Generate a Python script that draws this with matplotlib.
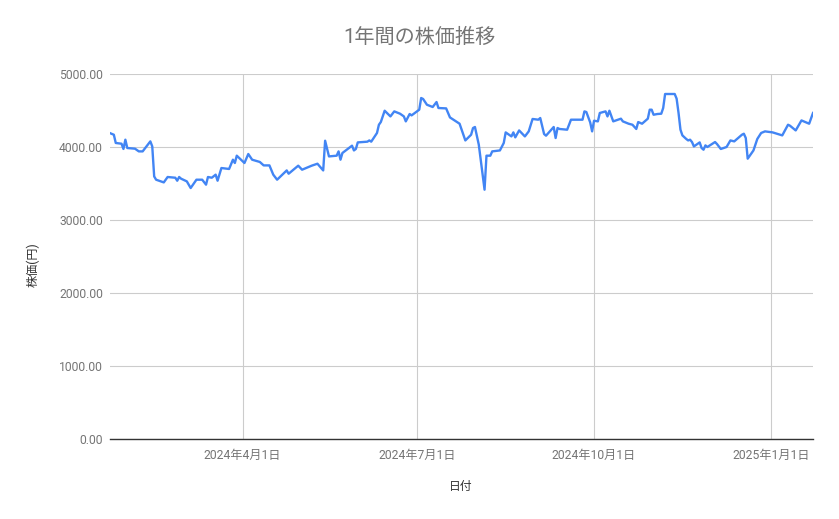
import matplotlib
matplotlib.use("Agg")
import matplotlib.pyplot as plt
import matplotlib.dates as mdates
import matplotlib.ticker as mticker
import pandas as pd

plt.rcParams['font.family'] = ['Roboto', 'Noto Sans CJK JP', 'DejaVu Sans']

title = "1年間の株価推移"
x_label = "日付"
y_label = "株価(円)"

dates = [
    "2024-01-23", "2024-01-25", "2024-01-26", "2024-01-29", "2024-01-30", "2024-01-31",
    "2024-02-01", "2024-02-05", "2024-02-07", "2024-02-09", "2024-02-13", "2024-02-14",
    "2024-02-15", "2024-02-16", "2024-02-20", "2024-02-22", "2024-02-26", "2024-02-27",
    "2024-02-28", "2024-02-29", "2024-03-03", "2024-03-05", "2024-03-08", "2024-03-11",
    "2024-03-13", "2024-03-14", "2024-03-16", "2024-03-18", "2024-03-19", "2024-03-21",
    "2024-03-25", "2024-03-27", "2024-03-28", "2024-03-29", "2024-04-02", "2024-04-04",
    "2024-04-06", "2024-04-10", "2024-04-12", "2024-04-15", "2024-04-17", "2024-04-19",
    "2024-04-24", "2024-04-25", "2024-04-30", "2024-05-02", "2024-05-07", "2024-05-10",
    "2024-05-13", "2024-05-14", "2024-05-16", "2024-05-20", "2024-05-21", "2024-05-22",
    "2024-05-23", "2024-05-28", "2024-05-29", "2024-05-30", "2024-05-31", "2024-06-05",
    "2024-06-06", "2024-06-07", "2024-06-10", "2024-06-11", "2024-06-12", "2024-06-14",
    "2024-06-17", "2024-06-19", "2024-06-22", "2024-06-24", "2024-06-25", "2024-06-27",
    "2024-06-28", "2024-07-02", "2024-07-03", "2024-07-04", "2024-07-06", "2024-07-09",
    "2024-07-11", "2024-07-12", "2024-07-16", "2024-07-18", "2024-07-23", "2024-07-26",
    "2024-07-29", "2024-07-30", "2024-07-31", "2024-08-02", "2024-08-05", "2024-08-06",
    "2024-08-08", "2024-08-09", "2024-08-13", "2024-08-15", "2024-08-16", "2024-08-19",
    "2024-08-20", "2024-08-21", "2024-08-23", "2024-08-26", "2024-08-28", "2024-08-30",
    "2024-09-02", "2024-09-03", "2024-09-05", "2024-09-06", "2024-09-10", "2024-09-11",
    "2024-09-12", "2024-09-13", "2024-09-17", "2024-09-19", "2024-09-22", "2024-09-25",
    "2024-09-26", "2024-09-27", "2024-09-29", "2024-09-30", "2024-10-01", "2024-10-03",
    "2024-10-04", "2024-10-07", "2024-10-08", "2024-10-09", "2024-10-11", "2024-10-15",
    "2024-10-16", "2024-10-19", "2024-10-21", "2024-10-23", "2024-10-24", "2024-10-26",
    "2024-10-29", "2024-10-30", "2024-10-31", "2024-11-01", "2024-11-03", "2024-11-05",
    "2024-11-06", "2024-11-07", "2024-11-12", "2024-11-13", "2024-11-14", "2024-11-15",
    "2024-11-16", "2024-11-18", "2024-11-19", "2024-11-20", "2024-11-21", "2024-11-22",
    "2024-11-25", "2024-11-26", "2024-11-27", "2024-11-28", "2024-11-29", "2024-12-03",
    "2024-12-04", "2024-12-06", "2024-12-09", "2024-12-11", "2024-12-13", "2024-12-17",
    "2024-12-18", "2024-12-19", "2024-12-20", "2024-12-23", "2024-12-25", "2024-12-27",
    "2024-12-29", "2025-01-02", "2025-01-07", "2025-01-10", "2025-01-11", "2025-01-14",
    "2025-01-17", "2025-01-19", "2025-01-21", "2025-01-23",
]

prices = [
    4190, 4168, 4055, 4045, 3973, 4100,
    3986, 3977, 3940, 3940, 4077, 4008,
    3597, 3552, 3515, 3589, 3579, 3538,
    3589, 3566, 3529, 3438, 3552, 3552,
    3484, 3589, 3579, 3621, 3538, 3712,
    3699, 3826, 3781, 3881, 3781, 3904,
    3826, 3795, 3748, 3748, 3621, 3552,
    3679, 3634, 3744, 3689, 3744, 3771,
    3679, 4086, 3871, 3881, 3940, 3826,
    3918, 4018, 3953, 3973, 4063, 4073,
    4090, 4073, 4192, 4305, 4342, 4497,
    4419, 4488, 4456, 4419, 4351, 4452,
    4433, 4511, 4671, 4658, 4579, 4548,
    4616, 4534, 4529, 4405, 4319, 4090,
    4168, 4260, 4274, 4032, 3415, 3881,
    3881, 3940, 3953, 4055, 4200, 4145,
    4200, 4132, 4227, 4145, 4214, 4384,
    4374, 4397, 4178, 4155, 4274, 4123,
    4260, 4247, 4237, 4374, 4374, 4374,
    4488, 4479, 4337, 4214, 4360, 4351,
    4466, 4488, 4419, 4497, 4351, 4388,
    4351, 4319, 4305, 4247, 4342, 4319,
    4388, 4511, 4511, 4442, 4452, 4456,
    4534, 4726, 4726, 4662, 4466, 4237,
    4159, 4110, 4090, 4100, 4068, 4008,
    4063, 3986, 3963, 4022, 4000, 4068,
    4041, 3973, 4000, 4090, 4077, 4168,
    4182, 4123, 3840, 3953, 4110, 4192,
    4214, 4200, 4159, 4305, 4292, 4227,
    4364, 4342, 4319, 4466,
]

x_ticks = ["2024-04-01", "2024-07-01", "2024-10-01", "2025-01-01"]
x_tick_labels = ["2024年4月1日", "2024年7月1日", "2024年10月1日", "2025年1月1日"]
y_ticks = [0, 1000, 2000, 3000, 4000, 5000]

dt = pd.to_datetime(dates)
tick_dt = pd.to_datetime(x_ticks)

fig = plt.figure(figsize=(8.39, 5.19), dpi=100)
ax = fig.add_axes([110 / 839, 1 - 439 / 519, (813 - 110) / 839, (439 - 74) / 519])

ax.plot(dt, prices, color="#4285f4", lw=1.7, solid_joinstyle="round", zorder=3)

ax.set_xlim(dt.min(), dt.max())
ax.set_ylim(0, 5000)
ax.set_yticks(y_ticks)
ax.yaxis.set_major_formatter(mticker.FuncFormatter(lambda v, p: f"{v:.2f}"))
ax.set_xticks(tick_dt)
ax.set_xticklabels(x_tick_labels)

ax.grid(True, color="#cccccc", lw=0.8, zorder=0)
for s in ["top", "right", "left"]:
    ax.spines[s].set_visible(False)
ax.spines["bottom"].set_color("#333333")
ax.spines["bottom"].set_linewidth(1.0)
ax.spines["bottom"].set_zorder(4)

ax.tick_params(axis="both", length=0, labelcolor="#757575", labelsize=8.7)
ax.tick_params(axis="y", pad=5)
ax.tick_params(axis="x", pad=7)

ax.set_xlabel(x_label, color="#333333", fontsize=8.5)
ax.xaxis.set_label_coords(0.499, -0.113)
ax.set_ylabel(y_label, color="#333333", fontsize=8.7)
ax.yaxis.set_label_coords(-0.1, 0.477)

fig.text(0.4994, 0.927, title, ha="center", va="center", color="#757575", fontsize=14.5)

fig.savefig("out.png", dpi=100)
